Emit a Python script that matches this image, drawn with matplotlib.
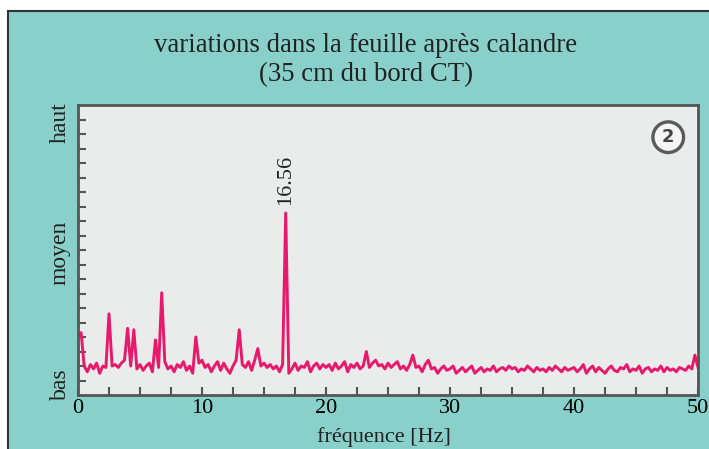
"""Spectre des variations dans la feuille après calandre, 35 cm du bord CT."""
import numpy as np
import matplotlib
matplotlib.use("Agg")
import matplotlib.pyplot as plt
from matplotlib.patches import Rectangle

# ── Data (amplitude, arbitrary units, 0.25 Hz steps from 0 to 50 Hz) ──
amplitude = [
    4.0, 4.3, 2.0, 1.6, 2.1, 1.8, 2.2, 1.5, 2.0, 1.9, 5.6, 2.0, 2.1, 1.9, 2.2, 2.4, 4.6, 2.0, 4.5, 1.8,
    2.1, 1.7, 2.0, 2.2, 1.6, 3.8, 1.9, 7.05, 2.3, 1.8, 2.0, 1.6, 2.1, 1.9, 2.3, 1.7, 2.0, 1.5, 4.0, 2.2,
    2.4, 1.9, 2.1, 1.6, 2.0, 2.3, 1.7, 2.2, 1.8, 1.5, 2.0, 2.4, 4.5, 2.1, 1.9, 2.3, 1.7, 2.4, 3.2, 2.0,
    2.2, 1.9, 2.1, 1.8, 2.0, 1.6, 2.1, 12.55, 1.5, 1.8, 2.2, 1.7, 2.0, 1.9, 2.3, 1.6, 2.0, 2.2, 1.8, 2.1,
    1.9, 2.1, 1.7, 2.2, 1.8, 2.0, 2.3, 1.6, 2.1, 1.9, 2.2, 1.8, 2.0, 3.0, 1.9, 2.2, 2.4, 2.0, 2.1, 1.8,
    2.2, 1.9, 2.1, 2.3, 1.8, 2.0, 1.7, 2.1, 2.75, 1.9, 2.0, 1.6, 2.1, 2.4, 1.8, 1.9, 1.5, 1.8, 2.0, 1.7,
    1.8, 2.0, 1.5, 1.7, 1.9, 1.6, 1.8, 2.0, 1.5, 1.7, 1.9, 1.6, 1.8, 1.7, 2.0, 1.6, 1.8, 1.9, 1.7, 2.0,
    1.8, 1.9, 1.6, 1.8, 1.7, 2.0, 1.8, 1.6, 1.9, 1.7, 1.8, 1.6, 1.9, 1.7, 2.0, 1.8, 1.6, 1.9, 1.7, 1.8,
    1.9, 1.6, 1.8, 2.1, 1.5, 1.8, 2.0, 1.6, 1.9, 1.7, 1.5, 1.8, 2.0, 1.7, 1.6, 1.9, 1.8, 2.1, 1.6, 1.8,
    1.7, 2.0, 1.5, 1.8, 1.9, 1.6, 1.8, 1.7, 2.0, 1.6, 1.9, 1.7, 1.8, 1.6, 1.9, 1.8, 1.7, 2.0, 1.8, 2.75,
    1.9,
]
freq = np.linspace(0, 50, len(amplitude))

peak_label = "16.56"
level_labels = ["bas", "moyen", "haut"]
xtick_major = [0, 10, 20, 30, 40, 50]

TEAL = "#88D0C9"
PLOT_BG = "#E9ECEA"
PINK = "#E8196B"
DARK = "#555555"
SERIF = ["Liberation Serif", "DejaVu Serif"]

fig = plt.figure(figsize=(7.09, 4.49), dpi=100, facecolor="white")

# teal panel behind everything
fig.patches.append(Rectangle((8 / 709, -0.01), 1.0, 1 - 11 / 449 + 0.01,
                             transform=fig.transFigure, facecolor=TEAL,
                             edgecolor="#333333", linewidth=1.5, zorder=-5))

ax = fig.add_axes([78 / 709, 54 / 449, 620 / 709, 290 / 449])
ax.set_zorder(2)
ax.set_facecolor(PLOT_BG)
ax.plot(freq, amplitude, color=PINK, lw=2.1, solid_joinstyle="round")

ax.set_xlim(0, 50)
ax.set_ylim(0, 20)
ax.set_xticks(xtick_major)
ax.set_xticks(np.arange(0, 50.1, 2.5), minor=True)
ax.set_yticks(range(1, 20))
ax.set_yticklabels([])
ax.tick_params(axis="both", which="both", direction="in", length=6, width=1.5,
               color=DARK, pad=3)
ax.tick_params(axis="x", labelsize=16)
for lab in ax.get_xticklabels():
    lab.set_fontfamily(SERIF)
for sp in ax.spines.values():
    sp.set_color(DARK)
    sp.set_linewidth(2)

# level labels on the left
for yy, txt in zip([0.038, 0.49, 0.94], level_labels):
    ax.text(-0.029, yy, txt, transform=ax.transAxes, rotation=90, ha="center",
            va="center", fontsize=17, family=SERIF, color="#222222")

# peak annotation
ipk = int(np.argmax(amplitude))
ax.annotate(peak_label, (freq[ipk], amplitude[ipk]), xytext=(0, 6),
            textcoords="offset points", rotation=90, ha="center", va="bottom",
            fontsize=16, family=SERIF, color="#222222")

# circled panel number
ax.text(0.952, 0.889, "2", transform=ax.transAxes, ha="center", va="center",
        fontsize=13, fontweight="bold", color="#444444",
        bbox=dict(boxstyle="circle,pad=0.35", facecolor="#F4F5F4", edgecolor="#5A5A5A", lw=2.4))

ax.text(0.494, -0.145, "fréquence [Hz]", transform=ax.transAxes, ha="center",
        va="center", fontsize=16, family=SERIF, color="#222222")

fig.text(366 / 709, 1 - 45 / 449, "variations dans la feuille après calandre",
         ha="center", va="center", fontsize=19.3, family=SERIF, color="#222222")
fig.text(366 / 709, 1 - 75 / 449, "(35 cm du bord CT)",
         ha="center", va="center", fontsize=19.3, family=SERIF, color="#222222")

fig.savefig("out.png", dpi=100, facecolor="white")
plt.close()
